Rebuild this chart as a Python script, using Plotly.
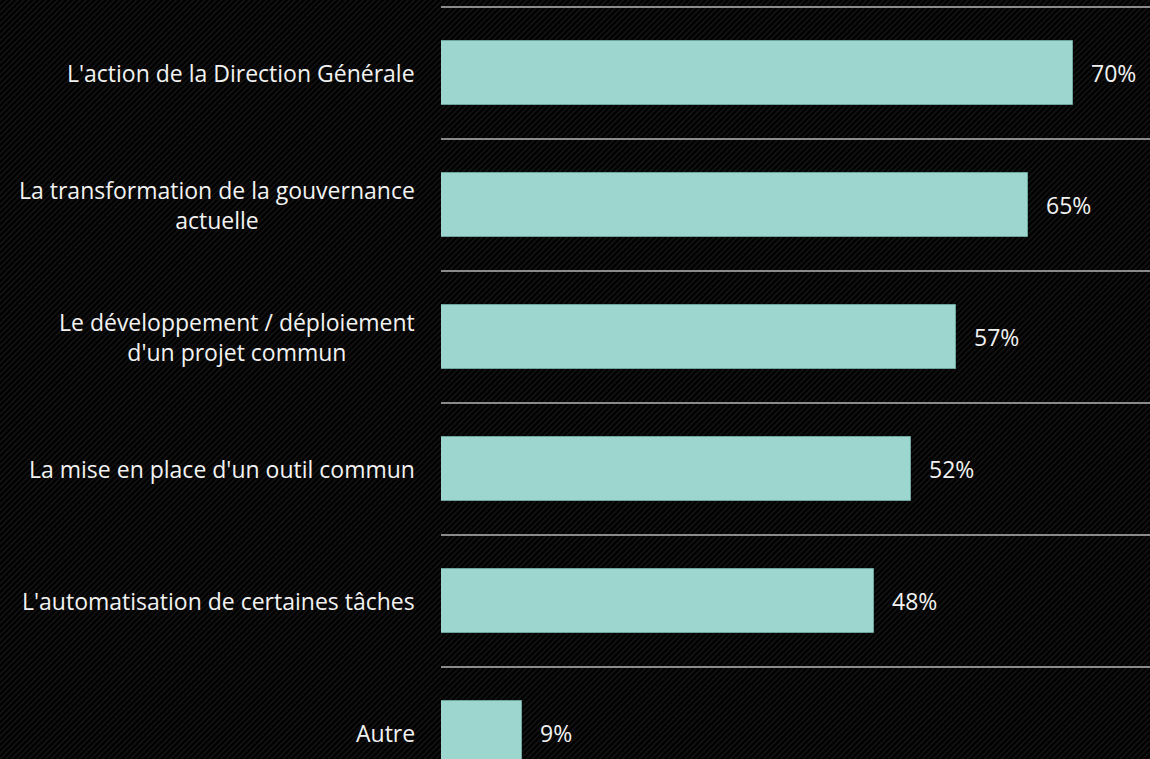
import base64
import plotly.graph_objects as go

# Survey answers, top to bottom
categories = [
    "L'action de la Direction Générale",
    "La transformation de la gouvernance<br>actuelle",
    "Le développement / déploiement<br>d'un projet commun",
    "La mise en place d'un outil commun",
    "L'automatisation de certaines tâches",
    "Autre",
]
values = [70, 65, 57, 52, 48, 9]
value_labels = ["70%", "65%", "57%", "52%", "48%", "9%"]

W, H = 1150, 759
ML, MR, MT, MB = 441, 0, 0, 0
PW, PH = W - ML - MR, H - MT - MB
BAND = 132          # pixels per category row
TOP_GAP = 7         # pixels above the first separator
PX_PER_PCT = 9.03   # pixels per percentage point

BAR_COLOR = "#9dd5cf"
TEXT_COLOR = "#f2f2f2"
LINE_COLOR = "#8a8a8a"
FONT = "'Open Sans', sans-serif"
FONT_SIZE = 23

# Dark background with fine diagonal hatching
svg = f"""<svg xmlns='http://www.w3.org/2000/svg' width='{W}' height='{H}'>
<defs><pattern id='h' patternUnits='userSpaceOnUse' width='4' height='4' patternTransform='rotate(45)'>
<rect width='4' height='4' fill='#000000'/><rect width='1.5' height='4' fill='#161616'/></pattern></defs>
<rect width='{W}' height='{H}' fill='url(#h)'/></svg>"""
bg_src = "data:image/svg+xml;base64," + base64.b64encode(svg.encode()).decode()

ypos = list(range(len(categories)))

fig = go.Figure(
    go.Bar(
        x=values,
        y=ypos,
        orientation="h",
        width=0.48,
        marker=dict(color=BAR_COLOR, line=dict(color="#6fa39e", width=1)),
        hoverinfo="skip",
    )
)

y_top = -0.5 - TOP_GAP / BAND
y_bottom = y_top + PH / BAND

# Row separators above each category
shapes = [
    dict(type="line", xref="paper", yref="y", x0=0, x1=1, y0=i - 0.5, y1=i - 0.5,
         line=dict(color=LINE_COLOR, width=2.2))
    for i in ypos
]

annotations = []
for i, (cat, v, lab) in enumerate(zip(categories, values, value_labels)):
    annotations.append(dict(x=0, y=i, xref="paper", yref="y", text=cat,
                            xanchor="right", yanchor="middle", xshift=-24,
                            align="center", showarrow=False,
                            font=dict(family=FONT, size=FONT_SIZE, color=TEXT_COLOR)))
    annotations.append(dict(x=v, y=i, xref="x", yref="y", text=lab,
                            xanchor="left", yanchor="middle", xshift=16,
                            showarrow=False,
                            font=dict(family=FONT, size=FONT_SIZE, color=TEXT_COLOR)))

fig.update_layout(
    width=W, height=H,
    margin=dict(l=ML, r=MR, t=MT, b=MB, pad=0),
    paper_bgcolor="#000000",
    plot_bgcolor="rgba(0,0,0,0)",
    showlegend=False,
    bargap=0,
    xaxis=dict(range=[0, PW / PX_PER_PCT], visible=False, fixedrange=True),
    yaxis=dict(range=[y_bottom, y_top], visible=False, fixedrange=True),
    shapes=shapes,
    annotations=annotations,
    images=[dict(source=bg_src, xref="paper", yref="paper",
                 x=-ML / PW, y=1 + MT / PH, sizex=W / PW, sizey=H / PH,
                 xanchor="left", yanchor="top", sizing="stretch", layer="below")],
)

fig.write_html("out.html", config={"displayModeBar": False})
